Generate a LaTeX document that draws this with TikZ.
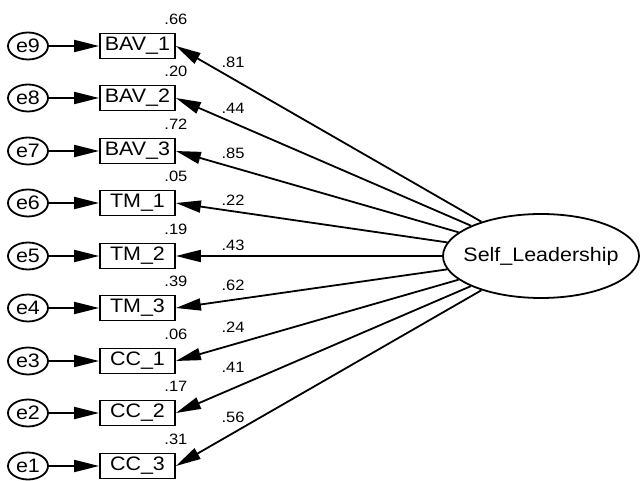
\documentclass[tikz,border=0pt]{standalone}
\usepackage{fontspec}
\setmainfont{Liberation Sans}[FakeStretch=1.1]
\usepackage{tikz}
\usetikzlibrary{shapes.geometric, arrows.meta, positioning}

\tikzset{
	obsbox/.style = {draw, line width=1.8pt, minimum width=75pt, minimum height=25pt, inner sep=0pt, font=\fontsize{19.5}{21}\selectfont},
	errnode/.style = {draw, ellipse, line width=1.8pt, minimum width=40pt, minimum height=27pt, inner sep=0pt, font=\fontsize{19.5}{21}\selectfont},
	latnode/.style = {draw, ellipse, line width=1.8pt, minimum width=196pt, minimum height=84pt, inner xsep=-15pt, inner ysep=0pt, font=\fontsize{19.5}{21}\selectfont},
	coef/.style = {inner sep=0pt, font=\fontsize{15}{17}\selectfont},
	resid/.style = {line width=1.8pt, -{Triangle[length=25pt,width=12pt]}},
	loading/.style = {line width=1.8pt, -{Triangle[length=25pt,width=12pt]}}
}

\begin{document}
\begin{tikzpicture}[x=1pt,y=-1pt]
		\useasboundingbox (0,0) rectangle (643,481);
		
		\node[errnode] (e9) at (28,46) {e9};
		\node[errnode] (e8) at (28,98) {e8};
		\node[errnode] (e7) at (28,151) {e7};
		\node[errnode] (e6) at (28,203) {e6};
		\node[errnode] (e5) at (28,256) {e5};
		\node[errnode] (e4) at (28,308) {e4};
		\node[errnode] (e3) at (28,361) {e3};
		\node[errnode] (e2) at (28,413) {e2};
		\node[errnode] (e1) at (28,466) {e1};
		
		\node[obsbox] (BAV1) at (137.5,46) {BAV\_1};
		\node[obsbox] (BAV2) at (137.5,98) {BAV\_2};
		\node[obsbox] (BAV3) at (137.5,151) {BAV\_3};
		\node[obsbox] (TM1) at (137.5,203) {TM\_1};
		\node[obsbox] (TM2) at (137.5,256) {TM\_2};
		\node[obsbox] (TM3) at (137.5,308) {TM\_3};
		\node[obsbox] (CC1) at (137.5,361) {CC\_1};
		\node[obsbox] (CC2) at (137.5,413) {CC\_2};
		\node[obsbox] (CC3) at (137.5,466) {CC\_3};
		
		\node[latnode] (SL) at (541,256) {Self\_Leadership};
		
		%%%%%%%%%%%%%%%%%%%%%%%%%%%%%%
		
		\node[coef, above=8pt of BAV1.north east] (v1) {.66};
		\node[coef, above=8pt of BAV2.north east] (v2) {.20};
		\node[coef, above=8pt of BAV3.north east] (v3) {.72};
		\node[coef, above=8pt of TM1.north east] (v4) {.05};
		\node[coef, above=8pt of TM2.north east] (v5) {.19};
		\node[coef, above=8pt of TM3.north east] (v6) {.39};
		\node[coef, above=8pt of CC1.north east] (v7) {.06};
		\node[coef, above=8pt of CC2.north east] (v8) {.17};
		\node[coef, above=8pt of CC3.north east] (v9) {.31};
		
		\node[coef] (w1) at (233,62) {.81};
		\node[coef] (w2) at (233,108) {.44};
		\node[coef] (w3) at (233,153) {.85};
		\node[coef] (w4) at (233,200) {.22};
		\node[coef] (w5) at (233,245) {.43};
		\node[coef] (w6) at (233,285) {.62};
		\node[coef] (w7) at (233,327) {.24};
		\node[coef] (w8) at (233,367) {.41};
		\node[coef] (w9) at (233,417) {.56};
		
		%%%%%%%%%%%%%%%%%%%%%%%%%%%%%%
		
		\draw[resid] (e9) -- (BAV1);
		\draw[resid] (e8) -- (BAV2);
		\draw[resid] (e7) -- (BAV3);
		\draw[resid] (e6) -- (TM1);
		\draw[resid] (e5) -- (TM2);
		\draw[resid] (e4) -- (TM3);
		\draw[resid] (e3) -- (CC1);
		\draw[resid] (e2) -- (CC2);
		\draw[resid] (e1) -- (CC3);
		
		\draw[loading] (SL) -- (BAV1.east);
		\draw[loading] (SL) -- (BAV2.east);
		\draw[loading] (SL) -- (BAV3.east);
		\draw[loading] (SL) -- (TM1.east);
		\draw[loading] (SL) -- (TM2.east);
		\draw[loading] (SL) -- (TM3.east);
		\draw[loading] (SL) -- (CC1.east);
		\draw[loading] (SL) -- (CC2.east);
		\draw[loading] (SL) -- (CC3.east);
		
	\end{tikzpicture}
\end{document}
